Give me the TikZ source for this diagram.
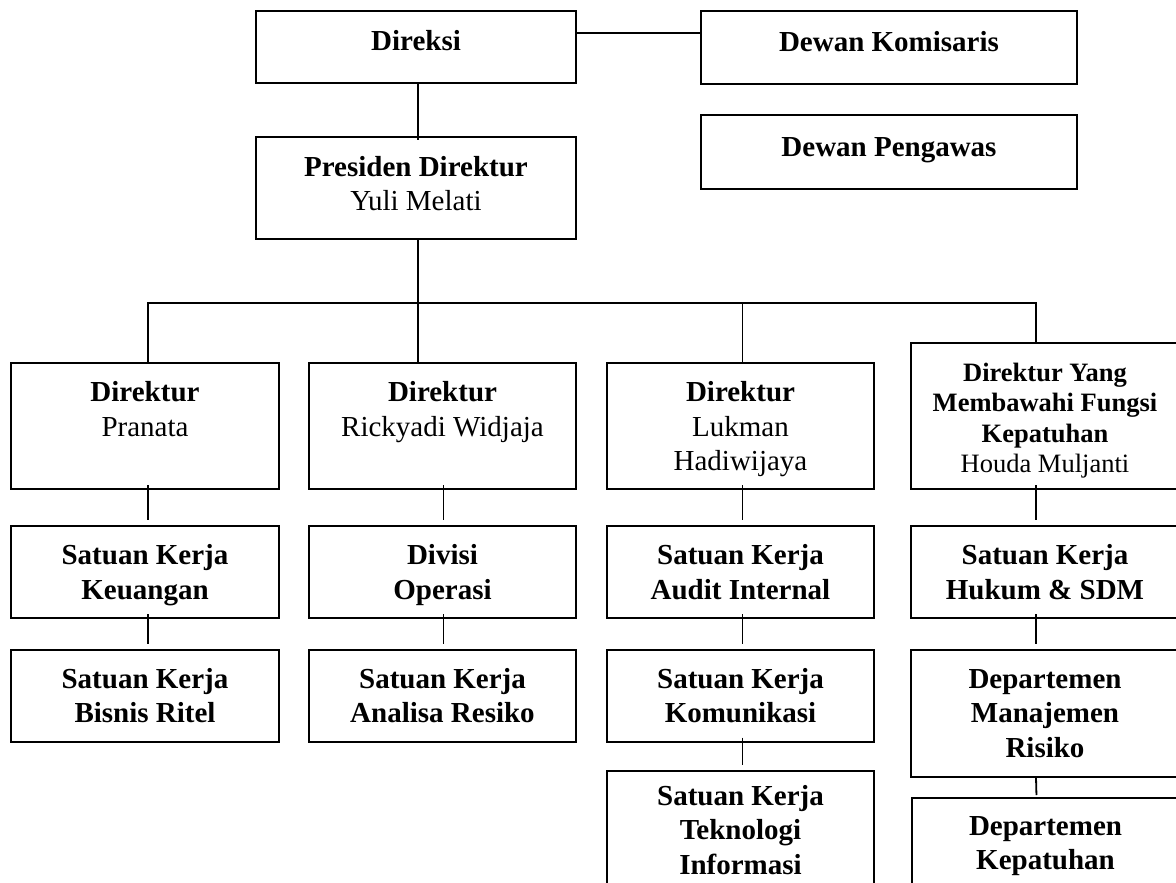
\documentclass[tikz,border=0pt]{standalone}
\usepackage{fontspec}
\setmainfont{Liberation Serif}
% box content: width, height, first-baseline offset from the top, text
\newcommand{\boxtext}[4]{\parbox[t][#2][t]{#1}{\centering\rule{0pt}{#3}#4}}
\begin{document}
\begin{tikzpicture}[x=1pt,y=-1pt,
  orgbox/.style={draw, line width=2pt, inner sep=0pt, anchor=north west,
    font=\fontsize{29}{34.5}\selectfont},
  wire/.style={line width=1.8pt},
  link/.style={wire, shorten <=-5pt, shorten >=5pt}]
\useasboundingbox (0,0) rectangle (1176,883);
\clip (0,0) rectangle (1176,883);

% board level
\node[orgbox] (dir)  at (255,10)  {\boxtext{320pt}{72pt}{40pt}{\bfseries Direksi}};
\node[orgbox] (kom)  at (700,10)  {\boxtext{376pt}{73pt}{41pt}{\bfseries Dewan Komisaris}};
\node[orgbox] (peng) at (700,114) {\boxtext{376pt}{74pt}{41pt}{\bfseries Dewan Pengawas}};
\node[orgbox] (pres) at (255,136) {\boxtext{320pt}{102pt}{39pt}{\textbf{Presiden Direktur}\\Yuli Melati}};

% directors
\node[orgbox] (d1) at (10,362)  {\boxtext{268pt}{126pt}{38.5pt}{\textbf{Direktur}\\Pranata}};
\node[orgbox] (d2) at (308,362) {\boxtext{267pt}{126pt}{38.5pt}{\textbf{Direktur}\\Rickyadi Widjaja}};
\node[orgbox] (d3) at (606,362) {\boxtext{267pt}{126pt}{38.5pt}{\textbf{Direktur}\\Lukman\\Hadiwijaya}};
\node[orgbox, font=\fontsize{26.5}{30.5}\selectfont] (d4) at (910,342)
  {\boxtext{268pt}{146pt}{38pt}{\textbf{Direktur Yang}\\\textbf{Membawahi Fungsi}\\\textbf{Kepatuhan}\\Houda Muljanti}};

% units, second row
\node[orgbox] (k1) at (10,525)  {\boxtext{268pt}{92pt}{38.5pt}{\bfseries Satuan Kerja\\Keuangan}};
\node[orgbox] (k2) at (308,525) {\boxtext{267pt}{92pt}{38.5pt}{\bfseries Divisi\\Operasi}};
\node[orgbox] (k3) at (606,525) {\boxtext{267pt}{92pt}{38.5pt}{\bfseries Satuan Kerja\\Audit Internal}};
\node[orgbox] (k4) at (910,525) {\boxtext{268pt}{92pt}{38.5pt}{\bfseries Satuan Kerja\\Hukum \& SDM}};

% units, third row
\node[orgbox] (b1) at (10,648.5)  {\boxtext{268pt}{92pt}{38.5pt}{\bfseries Satuan Kerja\\Bisnis Ritel}};
\node[orgbox] (b2) at (308,648.5) {\boxtext{267pt}{92pt}{38.5pt}{\bfseries Satuan Kerja\\Analisa Resiko}};
\node[orgbox] (b3) at (606,648.5) {\boxtext{267pt}{92pt}{38.5pt}{\bfseries Satuan Kerja\\Komunikasi}};
\node[orgbox] (b4) at (910,648.5) {\boxtext{268pt}{127pt}{38.5pt}{\bfseries Departemen\\Manajemen\\Risiko}};

% units, fourth row
\node[orgbox] (t3) at (606,770) {\boxtext{267pt}{130pt}{34pt}{\bfseries Satuan Kerja\\Teknologi\\Informasi}};
\node[orgbox] (t4) at (911,797) {\boxtext{267pt}{100pt}{37pt}{\bfseries Departemen\\Kepatuhan}};

% top connectors
\draw[wire, shorten >=-4pt] ([xshift=2pt]dir.south) -- ([xshift=2pt]pres.north);
\draw[wire] ([yshift=14pt]dir.east) -- ([yshift=14pt]dir.east -| kom.west);

% distribution line to the directors
\coordinate (bus) at (0,302.7);
\draw[wire] ([xshift=2pt]pres.south) -- ([xshift=2pt]pres.south |- d2.north);
\draw[wire] ([xshift=3pt]d1.north) -- ([xshift=3pt]d1.north |- bus)
  -- ([xshift=-9pt]d4.north |- bus) -- ([xshift=-9pt]d4.north);
\draw[wire] ([xshift=2pt]d3.north |- bus) -- ([xshift=2pt]d3.north);

% vertical links inside each column
\foreach \a/\b/\s in {d1/k1/3, k1/b1/3, d2/k2/1, k2/b2/1, d3/k3/2, k3/b3/2, b3/t3/2, d4/k4/-9, k4/b4/-9}
  \draw[link] ([xshift=\s pt]\a.south) -- ([xshift=\s pt]\b.north);
\draw[wire, shorten >=2pt] ([xshift=-9pt]b4.south) -- ([xshift=-9pt]t4.north);
\end{tikzpicture}
\end{document}
